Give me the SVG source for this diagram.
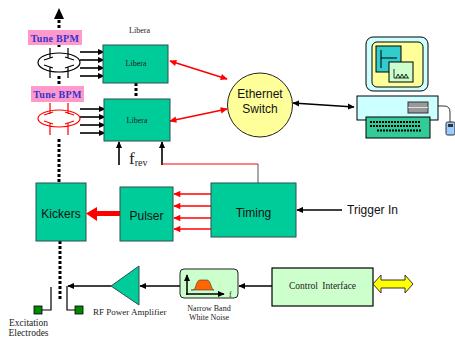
<svg xmlns="http://www.w3.org/2000/svg" width="455" height="338" viewBox="0 0 455 338">
  <style>
    .grn { fill: #00cc99; stroke: #2f4f4f; stroke-width: 1; }
    .lgrn { fill: #ccffcc; stroke: #222; stroke-width: 1; }
    .pink { fill: #ff99cc; stroke: none; }
    .dots { stroke: #000; stroke-width: 3; stroke-dasharray: 3 2; fill: none; }
    .blk { stroke: #000; stroke-width: 1.6; fill: none; }
    .red { stroke: #ff0000; stroke-width: 1.6; fill: none; }
    .serif { font-family: "Liberation Serif", "Times New Roman", serif; fill: #222; }
    .sans { font-family: "Liberation Sans", Arial, sans-serif; fill: #111; }
    .bpm { font-family: "Liberation Serif", "Times New Roman", serif; font-weight: bold; font-size: 10px; fill: #3333cc; letter-spacing: 0.3px; }
    .pick { fill: none; stroke-width: 1.2; }
  </style>
  <defs>
    <marker id="ahB" viewBox="0 0 10 10" refX="9" refY="5" markerWidth="7" markerHeight="7" markerUnits="userSpaceOnUse" orient="auto-start-reverse">
      <path d="M0,0.5 L10,5 L0,9.5 Z" fill="#000"/>
    </marker>
    <marker id="ahR" viewBox="0 0 10 10" refX="9" refY="5" markerWidth="8" markerHeight="7" markerUnits="userSpaceOnUse" orient="auto-start-reverse">
      <path d="M0,0.5 L10,5 L0,9.5 Z" fill="#ff0000"/>
    </marker>
  </defs>

  <!-- connectors -->
  <g id="connectors">
    <!-- beam pipe, dotted -->
    <line class="dots" x1="59" y1="20" x2="59" y2="31"/>
    <polygon points="59,8 54,19 64,19" fill="#000"/>
    <line class="dots" x1="59" y1="44" x2="59" y2="48"/>
    <line class="dots" x1="59" y1="76" x2="59" y2="87"/>
    <line class="dots" x1="59" y1="139" x2="59" y2="183"/>
    <line class="dots" x1="60" y1="241" x2="60" y2="299"/>
    <line class="dots" x1="136" y1="83" x2="136" y2="98"/>

    <!-- pickup signals into Libera -->
    <line class="blk" x1="80" y1="52" x2="104" y2="52" marker-end="url(#ahB)"/>
    <line class="blk" x1="80" y1="60" x2="104" y2="60" marker-end="url(#ahB)"/>
    <line class="blk" x1="80" y1="68" x2="104" y2="68" marker-end="url(#ahB)"/>
    <line class="blk" x1="80" y1="76" x2="104" y2="76" marker-end="url(#ahB)"/>
    <line class="blk" x1="80" y1="109" x2="105" y2="109" marker-end="url(#ahB)"/>
    <line class="blk" x1="80" y1="117" x2="105" y2="117" marker-end="url(#ahB)"/>
    <line class="blk" x1="80" y1="125" x2="105" y2="125" marker-end="url(#ahB)"/>
    <line class="blk" x1="80" y1="133" x2="105" y2="133" marker-end="url(#ahB)"/>

    <!-- f_rev and trigger into Libera -->
    <line class="blk" x1="119" y1="165" x2="119" y2="142" marker-end="url(#ahB)"/>
    <line class="blk" x1="162" y1="165" x2="162" y2="142" marker-end="url(#ahB)"/>
    <line x1="162" y1="164" x2="258" y2="164" stroke="#ff0000" stroke-width="1"/>
    <line x1="258" y1="164" x2="258" y2="183" stroke="#555" stroke-width="1"/>

    <!-- network -->
    <line class="red" x1="170" y1="61" x2="227" y2="79" marker-start="url(#ahR)" marker-end="url(#ahR)"/>
    <line class="red" x1="170" y1="121" x2="227" y2="109" marker-start="url(#ahR)" marker-end="url(#ahR)"/>
    <line class="blk" x1="293" y1="103" x2="354" y2="107" marker-start="url(#ahB)" marker-end="url(#ahB)"/>

    <!-- timing to pulser -->
    <line class="red" stroke-width="2" x1="211" y1="194" x2="174" y2="194" marker-end="url(#ahR)"/>
    <line class="red" stroke-width="2" x1="211" y1="206" x2="174" y2="206" marker-end="url(#ahR)"/>
    <line class="red" stroke-width="2" x1="211" y1="218" x2="174" y2="218" marker-end="url(#ahR)"/>
    <line class="red" stroke-width="2" x1="211" y1="229" x2="174" y2="229" marker-end="url(#ahR)"/>

    <!-- pulser to kickers -->
    <polygon points="120,211 97,211 97,207 86,213.5 97,221 97,216 120,216" fill="#ff0000"/>

    <!-- trigger in -->
    <line class="blk" stroke-width="1.3" x1="342" y1="210" x2="297" y2="210" marker-end="url(#ahB)"/>

    <!-- excitation chain -->
    <line class="blk" x1="273" y1="286" x2="239" y2="286" marker-end="url(#ahB)"/>
    <line class="blk" x1="180" y1="286" x2="140" y2="286" marker-end="url(#ahB)"/>
    <line class="blk" x1="111" y1="286" x2="68" y2="286" marker-end="url(#ahB)"/>
    <polyline points="67,286 67,310 75,310" fill="none" stroke="#000" stroke-width="1.2"/>
    <polyline points="51,287 51,310 42,310" fill="none" stroke="#000" stroke-width="1.2"/>
  </g>

  <!-- upper tune BPM -->
  <g id="bpm1">
    <rect class="pink" x="28" y="30" width="54" height="15"/>
    <text class="bpm" x="55" y="41.5" text-anchor="middle">Tune BPM</text>
    <g class="pick" stroke="#000">
      <ellipse cx="59" cy="62.5" rx="21" ry="9.5"/>
      <path d="M50,48 V58 M44,60 L53,57 M68,48 V58 M65,57 L74,60 M50,78 V67 M44,65 L53,68 M68,78 V67 M65,68 L74,65"/>
    </g>
  </g>

  <!-- lower tune BPM -->
  <g id="bpm2">
    <rect class="pink" x="31" y="86" width="53" height="16"/>
    <text class="bpm" x="57.5" y="97.5" text-anchor="middle">Tune BPM</text>
    <g class="pick" stroke="#ff0000">
      <ellipse cx="59" cy="118.5" rx="21" ry="8.5"/>
      <path d="M50,103 V114 M44,115 L53,112 M68,103 V114 M65,112 L74,115 M50,135 V123 M44,121 L53,124 M68,135 V123 M65,124 L74,121"/>
    </g>
  </g>

  <!-- Libera units -->
  <g id="libera1">
    <text class="serif" x="139.5" y="33" font-size="8" text-anchor="middle">Libera</text>
    <rect class="grn" x="103" y="45" width="65" height="38"/>
    <text class="serif" x="136" y="66" font-size="8" text-anchor="middle">Libera</text>
  </g>
  <g id="libera2">
    <rect class="grn" x="104" y="99" width="66" height="42"/>
    <text class="serif" x="137" y="123" font-size="8" text-anchor="middle">Libera</text>
  </g>

  <g id="frev">
    <text class="serif" x="129" y="164" font-size="17">f<tspan font-size="10" dy="2">rev</tspan></text>
  </g>

  <!-- Ethernet switch -->
  <g id="switch">
    <ellipse cx="260" cy="105" rx="32.5" ry="32" fill="#ffff99" stroke="#222" stroke-width="1"/>
    <text class="sans" x="260" y="98" font-size="12" text-anchor="middle">Ethernet</text>
    <text class="sans" x="260" y="113" font-size="12" text-anchor="middle">Switch</text>
  </g>

  <!-- workstation -->
  <g id="computer" stroke="#000" stroke-width="1">
    <rect x="366" y="37" width="62" height="54" rx="7" fill="#ccffff"/>
    <rect x="372" y="42" width="51" height="45" rx="5" fill="#ffff99"/>
    <rect x="376" y="46" width="25" height="26" fill="#33cccc"/>
    <path d="M381,50 V68 M381,58 H397" fill="none"/>
    <rect x="389" y="62" width="24" height="20" fill="#ccffcc"/>
    <path d="M394,69 V78 H409 M396,78 L398,74 L400,78 L402,74 L404,78 L406,74 L408,78" fill="none" stroke-width="0.8"/>
    <rect x="357" y="96" width="81" height="24" fill="#ccffff"/>
    <rect x="408" y="102" width="20" height="11" fill="#999999" stroke="#333"/>
    <line x1="408" y1="107.5" x2="428" y2="107.5" stroke="#dddddd"/>
    <rect x="366" y="117" width="64" height="21" fill="#33cc99"/>
    <path d="M370,122 H420 M370,126 H420 M377,130.5 H422" stroke-width="2.2" stroke-dasharray="2 1" fill="none"/>
    <path d="M438,106 H444 Q450,106 450,112 V122" fill="none" stroke-width="0.8"/>
    <rect x="446" y="122" width="9" height="13" rx="1.5" fill="#99ccff" stroke="#333"/>
    <rect x="448" y="124" width="5" height="3" fill="#333" stroke="none"/>
  </g>

  <!-- pulse chain -->
  <g id="kickers">
    <rect class="grn" x="36" y="183" width="50" height="58"/>
    <text class="sans" x="61" y="218" font-size="12" text-anchor="middle">Kickers</text>
  </g>
  <g id="pulser">
    <rect class="grn" x="120" y="187" width="53" height="54"/>
    <text class="sans" x="146.5" y="220" font-size="12" text-anchor="middle">Pulser</text>
  </g>
  <g id="timing">
    <rect class="grn" x="211" y="183" width="85" height="54"/>
    <text class="sans" x="253.5" y="217" font-size="12" text-anchor="middle">Timing</text>
  </g>
  <g id="trigger">
    <text class="sans" x="347" y="214" font-size="12">Trigger In</text>
  </g>

  <!-- excitation chain -->
  <g id="control">
    <rect x="272" y="268" width="101" height="38" fill="#ccffcc" stroke="#000" stroke-width="1.2"/>
    <text class="serif" x="322.5" y="289" font-size="9.5" text-anchor="middle" word-spacing="2">Control Interface</text>
    <polygon points="373,284 381,275 381,280 405,280 405,275 413,284 405,293 405,288 381,288 381,293" fill="#ffff00" stroke="#333" stroke-width="1"/>
  </g>

  <g id="noise">
    <rect class="lgrn" x="180" y="269" width="58" height="29" rx="4"/>
    <path d="M191,290 L193,290 C196,290 196,280 200,280 L207,280 C211,280 211,290 214,290 Z" fill="#ff6600" stroke="#333" stroke-width="0.6"/>
    <line x1="187" y1="295" x2="187" y2="275" stroke="#000" stroke-width="1.5" marker-end="url(#ahB)"/>
    <line x1="186" y1="294" x2="224" y2="294" stroke="#000" stroke-width="1.5" marker-end="url(#ahB)"/>
    <text class="serif" x="229" y="297" font-size="8" fill="#666">f</text>
    <text class="serif" x="209" y="311" font-size="8" text-anchor="middle">Narrow Band</text>
    <text class="serif" x="209" y="320" font-size="8" text-anchor="middle">White Noise</text>
  </g>

  <g id="amplifier">
    <polygon points="111,286 139,266 139,305" class="grn"/>
    <text class="serif" x="93" y="315" font-size="9">RF Power Amplifier</text>
  </g>

  <g id="electrodes">
    <rect x="34" y="306" width="8" height="8" fill="#008800" stroke="#000" stroke-width="0.8"/>
    <rect x="75" y="306" width="8" height="8" fill="#008800" stroke="#000" stroke-width="0.8"/>
    <text class="serif" x="28.5" y="326" font-size="9.5" text-anchor="middle">Excitation</text>
    <text class="serif" x="28.5" y="336" font-size="9.5" text-anchor="middle">Electrodes</text>
  </g>
</svg>
